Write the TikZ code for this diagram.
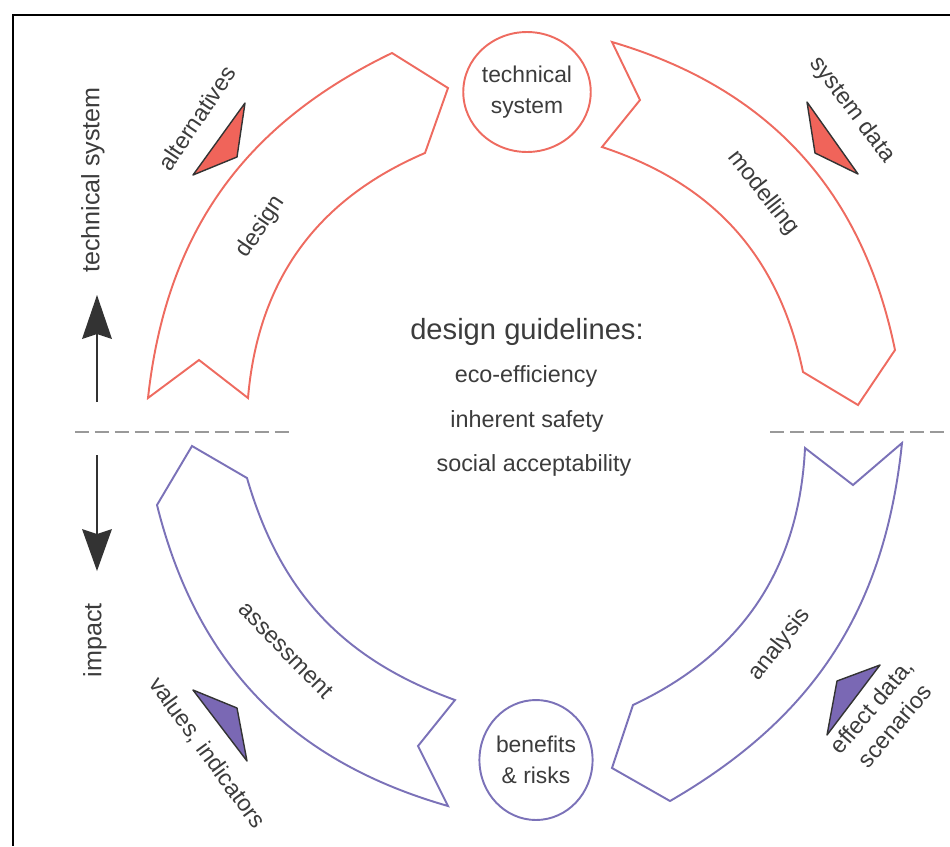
\documentclass[tikz,border=0pt]{standalone}
\usepackage{fontspec}
\setmainfont{Liberation Sans}
\usetikzlibrary{shapes.geometric}
\definecolor{redline}{HTML}{EE6B60}
\definecolor{purpline}{HTML}{7B72B8}
\definecolor{redfill}{HTML}{F0645A}
\definecolor{purpfill}{HTML}{7A68B4}
\definecolor{txt}{HTML}{3C3C3C}
\definecolor{darkarrow}{HTML}{333333}
\begin{document}
\begin{tikzpicture}[x=0.02cm,y=-0.02cm,
  lbl/.style={text=txt,font=\fontsize{13.3}{17}\selectfont,inner sep=0pt},
  sidelbl/.style={text=txt,font=\fontsize{14.3}{17}\selectfont,inner sep=0pt},
  redband/.style={draw=redline,line width=1.1pt,line join=miter},
  purpband/.style={draw=purpline,line width=1.1pt,line join=miter},
  tri/.style={draw=darkarrow,line width=0.8pt,line join=round},
  cyc/.style={ellipse,line width=1.1pt,minimum width=2.24cm,minimum height=2.4cm,inner sep=0pt,align=center},
  sep/.style={draw=gray!80,line width=1pt,dash pattern=on 0.28cm off 0.12cm},
  shaft/.style={draw=darkarrow,line width=1.6pt},
  head/.style={fill=darkarrow}]
\useasboundingbox (0,0) rectangle (950,846);
% frame
\draw[line width=1.2pt] (950,15) -- (13,15) -- (13,846);

% red bands
\draw[redband] (392,53) -- (448,88) -- (425,153) to[bend right=31] (248,398) -- (199,360) -- (148,398) to[bend left=29] (392,53) -- cycle;
\draw[redband] (612,42) -- (640,100) -- (602,147) to[bend left=30] (803,372) -- (858,405) -- (895,350) to[bend right=31] (612,42) -- cycle;
% purple bands
\draw[purpband] (157,505) -- (192,446) -- (247,478) to[bend right=27] (455,700) -- (418,746) -- (448,806) to[bend left=30] (157,505) -- cycle;
\draw[purpband] (805,448) -- (853,485) -- (902,443) to[bend left=27] (670,801) -- (612,768) -- (633,705) to[bend right=31] (805,448) -- cycle;

% small triangles
\draw[tri,fill=redfill] (245,103) -- (237,157) -- (193,175) -- cycle;
\draw[tri,fill=redfill] (807,102) -- (815,153) -- (858,174) -- cycle;
\draw[tri,fill=purpfill] (193,690) -- (237,708) -- (247,761) -- cycle;
\draw[tri,fill=purpfill] (880,665) -- (837,681) -- (827,735) -- cycle;

% separators
\coordinate (sepL1) at (75,432);
\coordinate (sepL2) at (290,432);
\coordinate (sepR1) at (770,432);
\coordinate (sepR2) at (950,432);
\draw[sep] (sepL1) -- (sepL2);
\draw[sep] (sepR1) -- (sepR2);

% vertical arrows
\coordinate (upS) at (97,402);
\coordinate (upE) at (97,334);
\coordinate (dnS) at (97,455);
\coordinate (dnE) at (97,534);
\draw[shaft] (upS) -- (upE);
\fill[head] (97,295) -- (112,339) -- (97,334) -- (82,339) -- cycle;
\draw[shaft] (dnS) -- (dnE);
\fill[head] (97,571) -- (112,529) -- (97,534) -- (82,529) -- cycle;

% labels
\node[sidelbl,rotate=90] (lts) at (93,180) {technical system};
\node[sidelbl,rotate=90] (limp) at (95,640) {impact};
\node[lbl,rotate=56] (lalt) at (197,118) {alternatives};
\node[lbl,rotate=56] (ldes) at (261,227) {design};
\node[lbl,rotate=-53] (lsd) at (852,110) {system data};
\node[lbl,rotate=-52] (lmod) at (763,193) {modelling};
\node[lbl,rotate=-46] (lass) at (286,650) {assessment};
\node[lbl,rotate=-54] (lval) at (207,753) {values, indicators};
\node[lbl,rotate=52] (lana) at (780,645) {analysis};
\node[lbl,rotate=50,align=center] (leff) at (883,716) {effect data,\\scenarios};

% circles
\node[cyc,draw=redline,lbl,font=\fontsize{13}{18}\selectfont] (ts) at (527,92) {technical\\system};
\node[cyc,draw=purpline,lbl,font=\fontsize{13}{18}\selectfont] (br) at (536,760) {benefits\\\& risks};

% centre text
\node[text=txt,font=\fontsize{16.6}{20}\selectfont,anchor=base,inner sep=0pt] (dg) at (527,339) {design guidelines:};
\node[lbl,anchor=base] (eco) at (526,382) {eco-efficiency};
\node[lbl,anchor=base] (inh) at (527,427) {inherent safety};
\node[lbl,anchor=base] (soc) at (534,471) {social acceptability};
\end{tikzpicture}
\end{document}
